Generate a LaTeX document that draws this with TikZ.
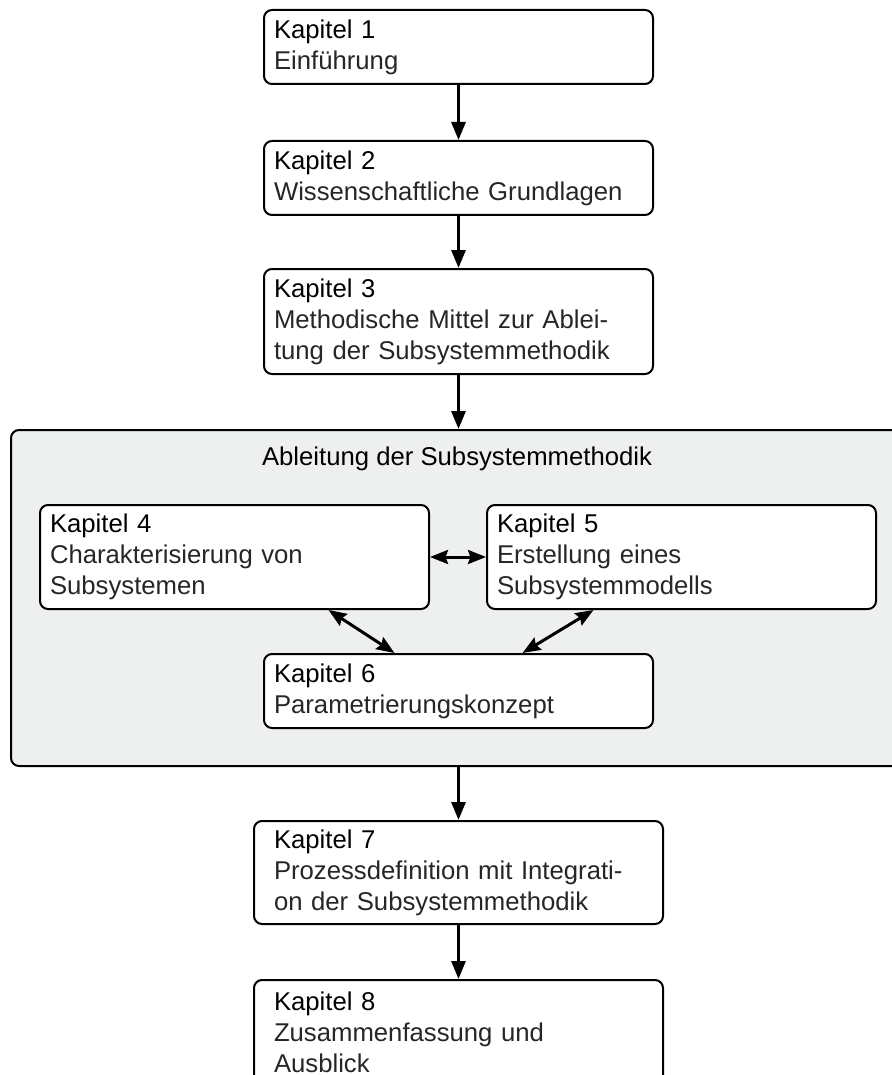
\documentclass[tikz,border=0pt]{standalone}
\usepackage{fontspec}
\setmainfont{Liberation Sans}
\usetikzlibrary{arrows.meta, positioning}
\definecolor{rahmengrau}{RGB}{238,239,239}
\newcommand{\kapfont}{\fontsize{12.85}{15.5}\selectfont}
\newcommand{\kap}[2]{Kapitel #1\\ \color{black!85}#2}
\tikzstyle{kapitel} = [draw, line width=1pt, rounded corners=4pt, fill=white, align=left, text width=184.5pt, inner xsep=5pt, minimum height=37pt, anchor=north west, font=\kapfont]
\tikzstyle{pfeil} = [line width=1.5pt, -{Triangle[length=9pt,width=7pt]}]
\tikzstyle{doppelpfeil} = [line width=1.5pt, {Stealth[length=9pt,width=7pt,inset=1.2pt]}-{Stealth[length=9pt,width=7pt,inset=1.2pt]}]

\begin{document}
\begin{tikzpicture}[x=0.5pt, y=-0.5pt]

        \useasboundingbox (0,0) rectangle (892,1075);

        % Kapitel 1 bis 3
        \node at (263,9) [kapitel] (k1) {\kap{1}{Einführung}};
        \node at (263,140) [kapitel] (k2) {\kap{2}{Wissenschaftliche Grundlagen}};
        \node at (263,268) [kapitel, minimum height=52.5pt] (k3) {\kap{3}{Methodische Mittel zur Ablei-\\tung der Subsystemmethodik}};

        % Ableitung der Subsystemmethodik
        \node at (10,429) [anchor=north west, draw, line width=1pt, rounded corners=4pt, fill=rahmengrau, minimum width=447pt, minimum height=168pt, inner sep=0pt] (grau) {};
        \node at (457,465) [anchor=base, font=\kapfont] (titel) {Ableitung der Subsystemmethodik};

        % Kapitel 4 bis 6
        \node at (39,504) [kapitel, minimum height=52pt] (k4) {\kap{4}{Charakterisierung von\\Subsystemen}};
        \node at (486,504) [kapitel, minimum height=52pt] (k5) {\kap{5}{Erstellung eines\\Subsystemmodells}};
        \node at (263,653) [kapitel] (k6) {\kap{6}{Parametrierungskonzept}};

        % Kapitel 7 und 8
        \node at (253,820) [kapitel, inner xsep=10pt, minimum height=51.5pt] (k7) {\kap{7}{Prozessdefinition mit Integrati-\\on der Subsystemmethodik}};
        \node at (253,979) [kapitel, inner xsep=10pt, minimum height=52.5pt] (k8) {\kap{8}{Zusammenfassung und\\Ausblick}};

        % Pfeile
        \draw [pfeil] (k1.south) -- (k2.north);
        \draw [pfeil] (k2.south) -- (k3.north);
        \draw [pfeil] (k3.south) -- (k3.south |- grau.north);
        \draw [pfeil] (k7.north |- grau.south) -- (k7.north);
        \draw [pfeil] (k7.south) -- (k8.north);

        % Doppelpfeile
        \draw [doppelpfeil] (k4.east) -- (k5.west);
        \draw [doppelpfeil] ([xshift=47pt]k4.south) -- ([xshift=-32pt]k6.north);
        \draw [doppelpfeil] ([xshift=-44pt]k5.south) -- ([xshift=32pt]k6.north);

\end{tikzpicture}
\end{document}
